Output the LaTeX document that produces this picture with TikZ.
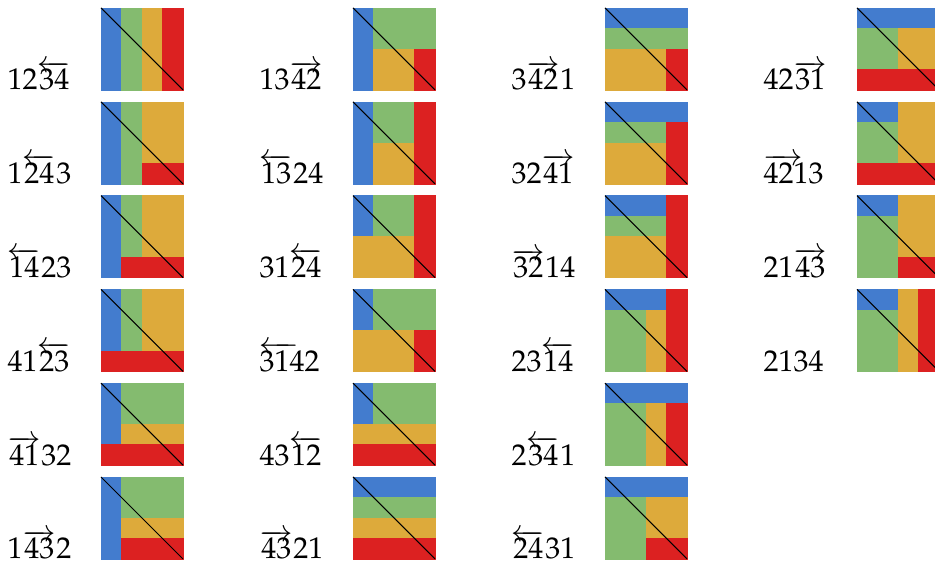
\documentclass[tikz,border=0pt]{standalone}
\usepackage{mathpazo}
\definecolor{cB}{HTML}{437CCE}
\definecolor{cG}{HTML}{84BB6F}
\definecolor{cO}{HTML}{DDAA3B}
\definecolor{cR}{HTML}{DC2121}
\newcommand\permcell[4]{%
  \begin{scope}[shift={({101+252*(#1-1)},{8+93.8*(#2-1)})}]
    \foreach \cc/\xa/\ya/\xb/\yb in {#4} {
      \filldraw[fill=\cc,draw=\cc,line width=0.15pt] (\xa*20.5,\ya*20.5) rectangle (\xb*20.5,\yb*20.5);
    }
    \draw[diagline] (0,0) -- (82,82);
    \node[permlabel] (lab-#1-#2) at (-94,82) {#3};
  \end{scope}}
\begin{document}
\begin{tikzpicture}[x=0.33333pt,y=-0.33333pt,
  diagline/.style={black,line width=0.35pt},
  permlabel/.style={anchor=base west,inner sep=0pt,font=\fontsize{10pt}{12pt}\selectfont}]
\useasboundingbox (0,0) rectangle (935,563);
% column 1
\permcell{1}{1}{$12\overleftarrow{34}$}{cB/0/0/1/4,cG/1/0/2/4,cO/2/0/3/4,cR/3/0/4/4}
\permcell{1}{2}{$1\overleftarrow{24}3$}{cB/0/0/1/4,cG/1/0/2/4,cO/2/0/4/3,cR/2/3/4/4}
\permcell{1}{3}{$\overleftarrow{14}23$}{cB/0/0/1/4,cG/1/0/2/3,cO/2/0/4/3,cR/1/3/4/4}
\permcell{1}{4}{$41\overleftarrow{23}$}{cB/0/0/1/3,cG/1/0/2/3,cO/2/0/4/3,cR/0/3/4/4}
\permcell{1}{5}{$\overrightarrow{41}32$}{cB/0/0/1/3,cG/1/0/4/2,cO/1/2/4/3,cR/0/3/4/4}
\permcell{1}{6}{$1\overrightarrow{43}2$}{cB/0/0/1/4,cG/1/0/4/2,cO/1/2/4/3,cR/1/3/4/4}
% column 2
\permcell{2}{1}{$13\overrightarrow{42}$}{cB/0/0/1/4,cG/1/0/4/2,cO/1/2/3/4,cR/3/2/4/4}
\permcell{2}{2}{$\overleftarrow{13}24$}{cB/0/0/1/4,cG/1/0/3/2,cO/1/2/3/4,cR/3/0/4/4}
\permcell{2}{3}{$31\overleftarrow{24}$}{cB/0/0/1/2,cG/1/0/3/2,cO/0/2/3/4,cR/3/0/4/4}
\permcell{2}{4}{$\rlap{$\overleftarrow{\phantom{31}\kern3.3pt}$}3142$}{cB/0/0/1/2,cG/1/0/4/2,cO/0/2/3/4,cR/3/2/4/4}
\permcell{2}{5}{$43\overleftarrow{12}$}{cB/0/0/1/2,cG/1/0/4/2,cO/0/2/4/3,cR/0/3/4/4}
\permcell{2}{6}{$\overrightarrow{43}21$}{cB/0/0/4/1,cG/0/1/4/2,cO/0/2/4/3,cR/0/3/4/4}
% column 3
\permcell{3}{1}{$3\overrightarrow{42}1$}{cB/0/0/4/1,cG/0/1/4/2,cO/0/2/3/4,cR/3/2/4/4}
\permcell{3}{2}{$32\overrightarrow{41}$}{cB/0/0/4/1,cG/0/1/3/2,cO/0/2/3/4,cR/3/1/4/4}
\permcell{3}{3}{$\overrightarrow{32}14$}{cB/0/0/3/1,cG/0/1/3/2,cO/0/2/3/4,cR/3/0/4/4}
\permcell{3}{4}{$23\overleftarrow{14}$}{cB/0/0/3/1,cG/0/1/2/4,cO/2/1/3/4,cR/3/0/4/4}
\permcell{3}{5}{$2\overleftarrow{34}1$}{cB/0/0/4/1,cG/0/1/2/4,cO/2/1/3/4,cR/3/1/4/4}
\permcell{3}{6}{$\overleftarrow{24}31$}{cB/0/0/4/1,cG/0/1/2/4,cO/2/1/4/3,cR/2/3/4/4}
% column 4
\permcell{4}{1}{$42\overrightarrow{31}$}{cB/0/0/4/1,cG/0/1/2/3,cO/2/1/4/3,cR/0/3/4/4}
\permcell{4}{2}{$\rlap{$\overrightarrow{\phantom{42}\kern3.3pt}$}4213$}{cB/0/0/2/1,cG/0/1/2/3,cO/2/0/4/3,cR/0/3/4/4}
\permcell{4}{3}{$21\overrightarrow{43}$}{cB/0/0/2/1,cG/0/1/2/4,cO/2/0/4/3,cR/2/3/4/4}
\permcell{4}{4}{$2134$}{cB/0/0/2/1,cG/0/1/2/4,cO/2/0/3/4,cR/3/0/4/4}
\end{tikzpicture}
\end{document}
